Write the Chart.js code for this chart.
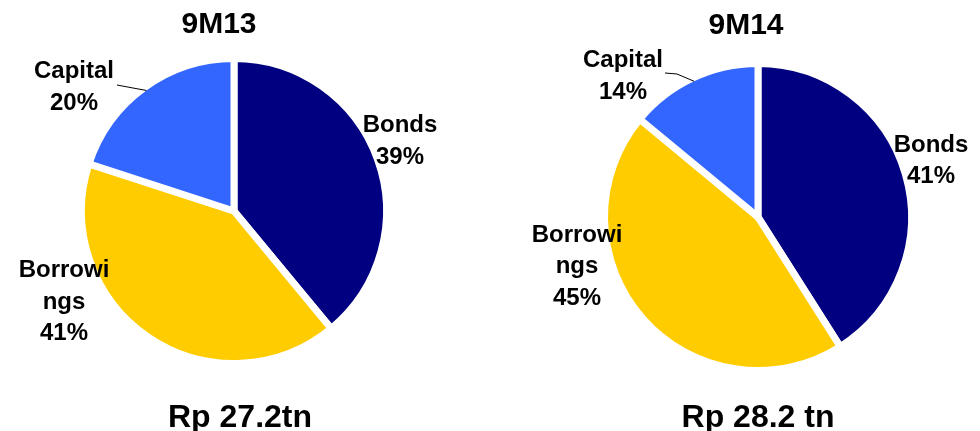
<!DOCTYPE html>
<html>
<head>
<meta charset="utf-8">
<script src="https://cdn.jsdelivr.net/npm/chart.js@4/dist/chart.umd.min.js"></script>
<style>
  html, body { margin: 0; padding: 0; background: #fff; }
  body { width: 980px; height: 431px; position: relative; overflow: hidden; }
  .box { position: absolute; top: 0; width: 490px; height: 431px; }
  #b1 { left: 0; }
  #b2 { left: 490px; }
</style>
</head>
<body>
<div class="box" id="b1"><canvas id="c1" width="490" height="431"></canvas></div>
<div class="box" id="b2"><canvas id="c2" width="490" height="431"></canvas></div>
<script>
// ---- data ----
const categories = ['Bonds', 'Borrowings', 'Capital'];
const labelLines = [['Bonds'], ['Borrowi', 'ngs'], ['Capital']];
const values9M13 = [39, 41, 20];
const values9M14 = [41, 45, 14];
const titles = ['9M13', '9M14'];
const totals = ['Rp 27.2tn', 'Rp 28.2 tn'];

// ---- style ----
const colors = ['#000080', '#FFCC00', '#3366FF'];
const FONT = "'Liberation Sans', Arial, Helvetica, sans-serif";

function makeChart(canvasId, values, title, total, cfg) {
  const labelPlugin = {
    id: 'lbl' + canvasId,
    afterDraw(chart) {
      const ctx = chart.ctx;
      const meta = chart.getDatasetMeta(0);
      const arc0 = meta.data[0];
      const cx = arc0.x, cy = arc0.y;
      ctx.save();
      ctx.fillStyle = '#000';
      ctx.textAlign = 'center';
      ctx.textBaseline = 'alphabetic';
      // title
      ctx.font = 'bold 30px ' + FONT;
      ctx.fillText(title, cfg.titlePos[0], cfg.titlePos[1]);
      // total
      ctx.font = 'bold 32px ' + FONT;
      ctx.fillText(total, cfg.totalPos[0], cfg.totalPos[1]);
      // slice labels
      ctx.font = 'bold 24px ' + FONT;
      meta.data.forEach((arc, i) => {
        const lines = labelLines[i].concat([values[i] + '%']);
        const off = cfg.labelOff[i];
        lines.forEach((t, k) => {
          ctx.fillText(t, cx + off[0], cy + off[1] + k * 31.5);
        });
      });
      // leader line for Capital
      const a = meta.data[2];
      const mid = (a.startAngle + a.endAngle) / 2;
      const r = a.outerRadius - 3.5;
      const ex = a.x + Math.cos(mid) * r, ey = a.y + Math.sin(mid) * r;
      ctx.strokeStyle = '#000';
      ctx.lineWidth = 1;
      ctx.beginPath();
      ctx.moveTo(cx + cfg.leader[0][0], cy + cfg.leader[0][1]);
      ctx.lineTo(cx + cfg.leader[1][0], cy + cfg.leader[1][1]);
      ctx.lineTo(ex, ey);
      ctx.stroke();
      ctx.restore();
    }
  };
  return new Chart(document.getElementById(canvasId), {
    type: 'pie',
    data: {
      labels: categories,
      datasets: [{
        data: values,
        backgroundColor: colors,
        borderColor: '#ffffff',
        borderWidth: 7,
        borderJoinStyle: 'miter'
      }]
    },
    options: {
      responsive: false,
      animation: false,
      devicePixelRatio: 1,
      radius: cfg.radius,
      layout: { padding: cfg.padding },
      plugins: { legend: { display: false }, tooltip: { enabled: false } }
    },
    plugins: [labelPlugin]
  });
}

makeChart('c1', values9M13, titles[0], totals[0], {
  padding: { left: 84, right: 106, top: 61, bottom: 70 },
  radius: 152.5,
  titlePos: [219, 33],
  totalPos: [240, 427],
  labelOff: [[166, -79], [-170, 66], [-160, -133]],
  leader: [[-117, -126], [-101, -123]]
});

makeChart('c2', values9M14, titles[1], totals[1], {
  padding: { left: 118, right: 72, top: 67, bottom: 64 },
  radius: 153.5,
  titlePos: [256, 34],
  totalPos: [268, 427],
  labelOff: [[173, -65.5], [-181, 24.5], [-135, -150]],
  leader: [[-93, -144], [-81, -143]]
});
</script>
</body>
</html>
